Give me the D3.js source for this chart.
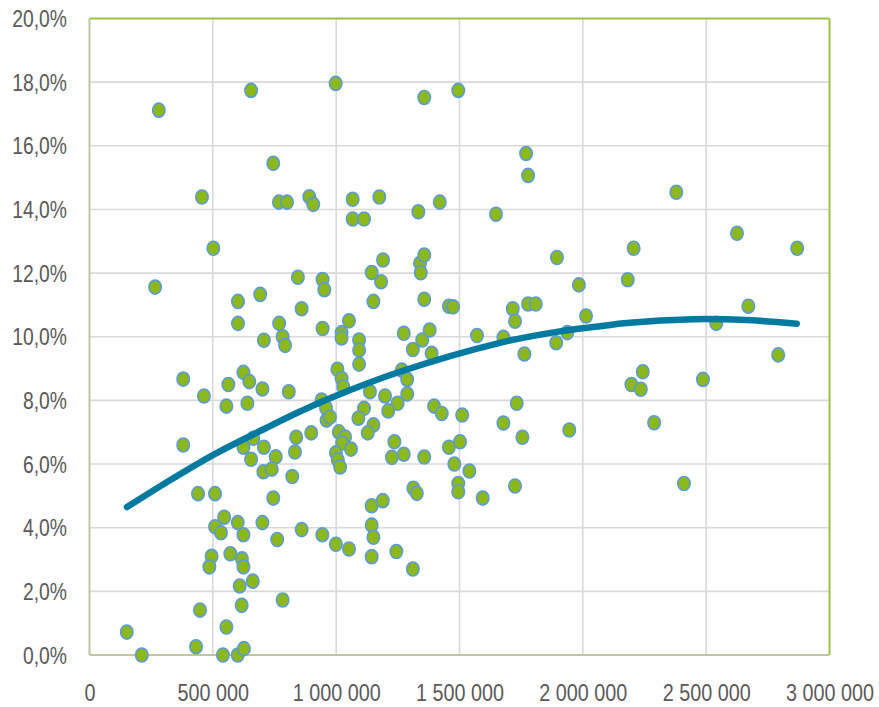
<!DOCTYPE html>
<html>
<head>
<meta charset="utf-8">
<script src="https://cdn.jsdelivr.net/npm/d3@7"></script>
<style>
  html, body { margin: 0; padding: 0; background: #ffffff; }
  svg { display: block; }
  .tick text { font-family: "Liberation Sans", Arial, sans-serif; font-size: 23px; fill: #595959; }
</style>
</head>
<body>
<svg id="chart" width="879" height="707"></svg>
<script>
// ---- data ----
const xValues = [
  655000, 281000, 745000, 456000, 768000, 801000, 891000, 907000, 502000, 845000,
  945000, 952000, 266000, 692000, 602000, 860000, 602000, 769000, 945000, 707000,
  783000, 793000,
  380000, 464000, 563000, 624000, 648000, 701000, 808000, 555000, 640000, 941000,
  959000, 961000, 975000, 380000, 624000, 664000, 707000, 655000, 755000, 705000,
  739000, 838000, 833000, 899000, 822000, 440000, 509000, 745000, 546000, 509000,
  533000, 601000, 624000, 701000, 761000, 860000, 944000, 495000, 486000, 571000,
  618000, 624000, 662000, 609000, 783000, 617000, 448000, 555000, 151000, 432000,
  212000, 541000, 601000, 626000,
  998000, 1357000, 1495000, 1770000, 1778000, 1067000, 1175000, 1067000, 1113000, 1333000,
  1420000, 1648000, 1190000, 1144000, 1182000, 1340000, 1357000, 1343000, 1895000, 1151000,
  1357000, 1457000, 1474000, 1716000, 1725000, 1778000, 1809000, 1052000, 1022000, 1022000,
  1093000, 1093000, 1093000, 1274000, 1311000, 1349000, 1379000, 1387000, 1571000, 1678000,
  1763000, 1892000,
  1005000, 1022000, 1029000, 1266000, 1288000, 1137000, 1198000, 1288000, 1249000, 1211000,
  1113000, 1090000, 1151000, 1128000, 1011000, 1036000, 1024000, 1060000, 999000, 1007000,
  1016000, 1397000, 1428000, 1511000, 1236000, 1226000, 1274000, 1357000, 1457000, 1502000,
  1479000, 1540000, 1495000, 1495000, 1313000, 1327000, 1594000, 1678000, 1732000, 1755000,
  1725000, 1144000, 1189000, 1144000, 1151000, 1144000, 999000, 1052000, 1244000, 1311000,
  2379000, 2625000, 2869000, 2206000, 1984000, 2182000, 2013000, 2671000, 2541000, 1937000,
  2792000, 2243000, 2197000, 2235000, 2487000, 1945000, 2289000, 2410000
];
const yValues = [
  17.74, 17.12, 15.45, 14.39, 14.23, 14.23, 14.40, 14.16, 12.78, 11.87,
  11.80, 11.48, 11.56, 11.33, 11.11, 10.88, 10.42, 10.42, 10.26, 9.89,
  10.00, 9.73,
  8.67, 8.14, 8.50, 8.88, 8.59, 8.36, 8.27, 7.82, 7.91, 8.01,
  7.76, 7.38, 7.48, 6.60, 6.53, 6.81, 6.53, 6.15, 6.23, 5.76,
  5.84, 6.84, 6.38, 6.98, 5.61, 5.07, 5.07, 4.93, 4.33, 4.03,
  3.84, 4.16, 3.78, 4.16, 3.63, 3.94, 3.78, 3.10, 2.77, 3.18,
  3.02, 2.77, 2.32, 2.17, 1.73, 1.56, 1.41, 0.88, 0.72, 0.26,
  0.00, 0.00, 0.00, 0.20,
  17.96, 17.52, 17.74, 15.76, 15.07, 14.32, 14.39, 13.70, 13.70, 13.93,
  14.23, 13.85, 12.41, 12.02, 11.73, 12.31, 12.57, 12.01, 12.49, 11.11,
  11.18, 10.96, 10.94, 10.88, 10.49, 11.03, 11.03, 10.50, 10.13, 9.96,
  9.90, 9.58, 9.14, 10.11, 9.60, 9.90, 10.21, 9.48, 10.04, 9.98,
  9.46, 9.81,
  8.98, 8.69, 8.43, 8.95, 8.66, 8.27, 8.14, 8.20, 7.91, 7.67,
  7.75, 7.44, 7.23, 6.98, 7.01, 6.85, 6.66, 6.47, 6.35, 6.13,
  5.91, 7.82, 7.59, 7.54, 6.70, 6.21, 6.31, 6.22, 6.53, 6.70,
  6.00, 5.78, 5.39, 5.13, 5.24, 5.08, 4.93, 7.29, 7.91, 6.84,
  5.31, 4.69, 4.85, 4.08, 3.70, 3.09, 3.48, 3.33, 3.25, 2.70,
  14.54, 13.25, 12.78, 12.78, 11.63, 11.79, 10.65, 10.96, 10.42, 10.13,
  9.43, 8.90, 8.50, 8.35, 8.66, 7.07, 7.30, 5.39
];
// trend line
const trendX = [152000, 313000, 502000, 718000, 853000, 975000, 1258000, 1664000, 1907000, 2070000, 2178000, 2448000, 2610000, 2718000, 2867000];
const trendY = [4.65, 5.43, 6.29, 7.14, 7.65, 8.07, 8.90, 9.81, 10.17, 10.33, 10.43, 10.55, 10.54, 10.50, 10.41];
// axis ticks
const xTicks = [0, 500000, 1000000, 1500000, 2000000, 2500000, 3000000];
const xTickLabels = ["0", "500 000", "1 000 000", "1 500 000", "2 000 000", "2 500 000", "3 000 000"];
const yTicks = [0, 2, 4, 6, 8, 10, 12, 14, 16, 18, 20];
const yTickLabels = ["0,0%", "2,0%", "4,0%", "6,0%", "8,0%", "10,0%", "12,0%", "14,0%", "16,0%", "18,0%", "20,0%"];

// ---- layout ----
const svg = d3.select("#chart");
const L = 89.5, R = 829.5, T = 18.5, B = 655;
const x = d3.scaleLinear().domain([0, 3000000]).range([L, R]);
const y = d3.scaleLinear().domain([0, 20]).range([B, T]);

// gridlines
const grid = svg.append("g");
grid.selectAll("line.v").data(xTicks.slice(1, -1)).join("line")
  .attr("x1", d => x(d)).attr("x2", d => x(d)).attr("y1", T).attr("y2", B)
  .attr("stroke", "#d9d9d9").attr("stroke-width", 1.6);
grid.selectAll("line.h").data(yTicks.slice(1, -1)).join("line")
  .attr("x1", L).attr("x2", R).attr("y1", d => y(d)).attr("y2", d => y(d))
  .attr("stroke", "#d9d9d9").attr("stroke-width", 1.6);

// frame
svg.append("line").attr("x1", L).attr("x2", R).attr("y1", T).attr("y2", T).attr("stroke", "#9ec243").attr("stroke-width", 2);
svg.append("line").attr("x1", R).attr("x2", R).attr("y1", T).attr("y2", B).attr("stroke", "#9ec243").attr("stroke-width", 2);
svg.append("line").attr("x1", L).attr("x2", L).attr("y1", T).attr("y2", B).attr("stroke", "#c2c6a0").attr("stroke-width", 2);
svg.append("line").attr("x1", L).attr("x2", R).attr("y1", B).attr("y2", B).attr("stroke", "#c2c6a0").attr("stroke-width", 2);

// axes (labels only), glyphs horizontally condensed like the reference
const xAxis = d3.axisBottom(x).tickValues(xTicks).tickSize(0).tickPadding(0)
  .tickFormat((d, i) => xTickLabels[i]);
const gx = svg.append("g").attr("transform", `translate(0,${B})`).call(xAxis);
gx.select(".domain").remove();
gx.selectAll(".tick text").attr("dy", null).attr("y", 0)
  .attr("transform", "translate(0,46) scale(0.86,1)");

const yAxis = d3.axisLeft(y).tickValues(yTicks).tickSize(0).tickPadding(0)
  .tickFormat((d, i) => yTickLabels[i]);
const gy = svg.append("g").attr("transform", `translate(67,0)`).call(yAxis);
gy.select(".domain").remove();
gy.selectAll(".tick text").attr("x", 0).attr("dy", "0.35em")
  .attr("transform", "scale(0.84,1)");

// points
const pts = xValues.map((v, i) => ({ x: v, y: yValues[i] }));
svg.append("g").selectAll("ellipse").data(pts).join("ellipse")
  .attr("cx", d => x(d.x)).attr("cy", d => y(d.y))
  .attr("rx", 6.2).attr("ry", 7)
  .attr("fill", "#8cb81c").attr("stroke", "#5b9bd5").attr("stroke-width", 1.6);

// trend line
const trend = trendX.map((v, i) => ({ x: v, y: trendY[i] }));
svg.append("path").datum(trend)
  .attr("d", d3.line().x(d => x(d.x)).y(d => y(d.y)).curve(d3.curveCatmullRom))
  .attr("fill", "none").attr("stroke", "#007aa0").attr("stroke-width", 6.5)
  .attr("stroke-linecap", "round").attr("stroke-linejoin", "round");
</script>
</body>
</html>
